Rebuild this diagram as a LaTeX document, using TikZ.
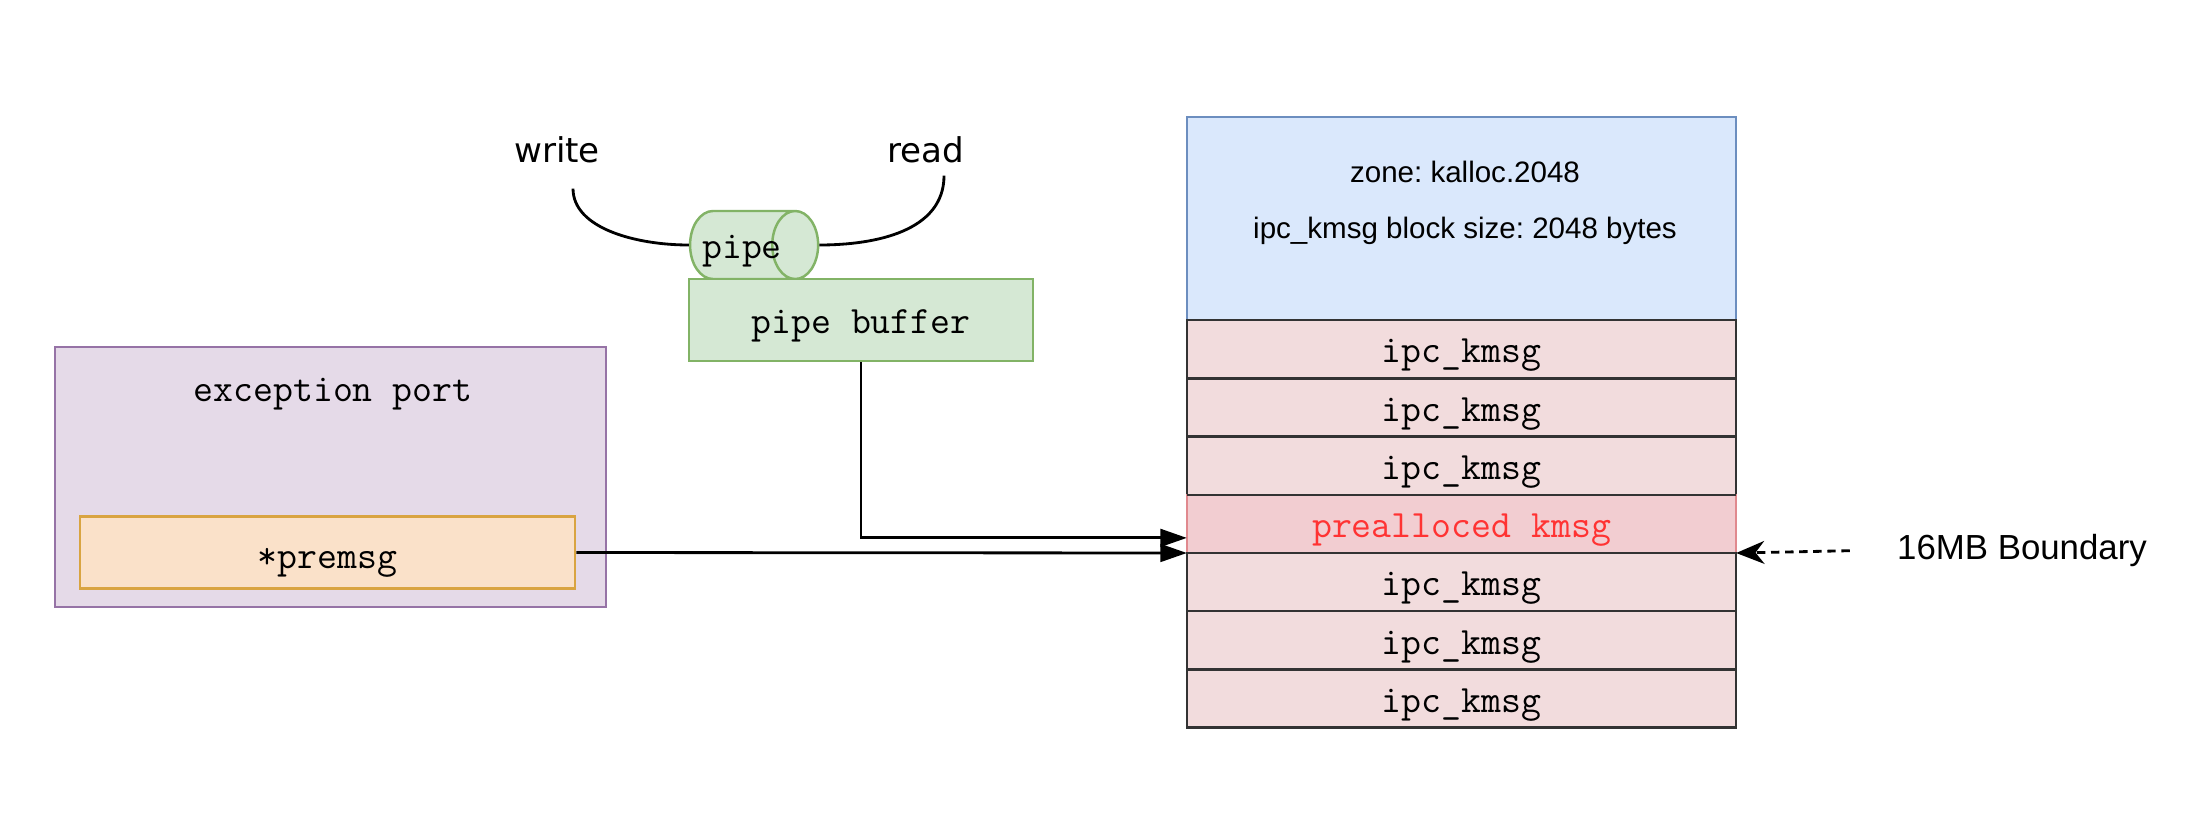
\documentclass[tikz,border=0pt]{standalone}
\usepackage{fontspec}
\usepackage{xcolor}
\usepackage{tikz}
\usetikzlibrary{shapes.geometric,arrows.meta,positioning}
\newfontfamily\arialfont{Liberation Sans}
\newfontfamily\handfont{DejaVu Sans}
\frenchspacing
\definecolor{zonefill}{HTML}{DAE8FC}
\definecolor{zoneline}{HTML}{6C8EBF}
\definecolor{kmsgfill}{HTML}{F2DCDD}
\definecolor{kmsgline}{HTML}{333333}
\definecolor{preafill}{HTML}{F2CDD1}
\definecolor{prealine}{HTML}{E0898E}
\definecolor{preatext}{HTML}{FF3333}
\definecolor{pipefill}{HTML}{D5E8D4}
\definecolor{pipeline}{HTML}{82B366}
\definecolor{portfill}{HTML}{E5DAE8}
\definecolor{portline}{HTML}{9673A6}
\definecolor{msgfill}{HTML}{FAE1C9}
\definecolor{msgline}{HTML}{D9A441}

\begin{document}
\begin{tikzpicture}[
    x=0.01cm, y=-0.01cm,
    mono/.style={font=\ttfamily\fontsize{11}{13}\selectfont, text height=1.0em, text depth=0.22em},
    kmsg/.style={rectangle, draw=kmsgline, line width=0.7pt, fill=kmsgfill, outer sep=0pt,
        minimum width=5.49cm, minimum height=0.582cm, inner sep=0pt, mono},
    prea/.style={kmsg, draw=prealine, fill=preafill, text=preatext},
    zonebox/.style={rectangle, draw=zoneline, line width=0.7pt, fill=zonefill, outer sep=0pt,
        minimum width=5.49cm, minimum height=2.03cm},
    pipebox/.style={rectangle, draw=pipeline, line width=0.7pt, fill=pipefill,
        minimum width=3.44cm, minimum height=0.82cm, mono},
    portbox/.style={rectangle, draw=portline, line width=0.7pt, fill=portfill,
        minimum width=5.51cm, minimum height=2.60cm},
    msgbox/.style={rectangle, draw=msgline, line width=0.7pt, fill=msgfill,
        minimum width=4.95cm, minimum height=0.57cm, mono, text height=1.15em},
    arr/.style={-{Triangle[length=7.5pt,width=5pt]}, line width=0.8pt},
    bndarr/.style={-{Stealth[length=8pt,width=6.5pt,inset=2.5pt]}, line width=0.8pt,
        dash pattern=on 2.4pt off 1.6pt},
    hand/.style={font=\handfont\fontsize{9.7}{12}\selectfont}
]
\useasboundingbox (0,0) rectangle (2210,830);

% kalloc.2048 zone
\node[zonebox] (zone) at (1461.5,218.5) {};
\node[font=\arialfont\fontsize{8.4}{10}\selectfont, align=center] (zoneinfo) at (1465,203)
    {zone: kalloc.2048\\[0.21cm]ipc\_kmsg block size: 2048 bytes};
\node[kmsg, below=0pt of zone] (r1) {ipc\_kmsg};
\node[kmsg, below=0pt of r1] (r2) {ipc\_kmsg};
\node[kmsg, below=0pt of r2] (r3) {ipc\_kmsg};
\node[prea, below=0pt of r3] (r4) {prealloced kmsg};
\node[kmsg, below=0pt of r4] (r5) {ipc\_kmsg};
\node[kmsg, below=0pt of r5] (r6) {ipc\_kmsg};
\node[kmsg, below=0pt of r6] (r7) {ipc\_kmsg};
\draw[draw=kmsgline, line width=0.7pt] (r3.south west) -- (r3.south east);

% pipe
\node[hand] (write) at (557,150) {write};
\node[hand] (read) at (926,150) {read};
\node[cylinder, shape border rotate=0, aspect=1.07, draw=pipeline, fill=pipefill,
    line width=0.7pt, minimum width=0.68cm, minimum height=1.28cm, inner ysep=0pt,
    inner xsep=-0.115cm, mono] (pipe) at (742,245) {pipe};
\node[pipebox] (buf) at (861,320) {pipe buffer};

% exception port
\node[portbox] (port) at (330.5,477) {};
\node[mono] (porttitle) at (333,388) {exception port};
\node[msgbox] (msg) at (327.5,552.5) {*premsg};

\node[font=\arialfont\fontsize{9.9}{12}\selectfont] (bnd) at (2022,550) {16MB Boundary};

\draw[line width=0.8pt, shorten <=0.13cm] ([xshift=0.16cm]write.south) to[out=-90, in=180] (pipe.west);
\draw[line width=0.8pt] ([xshift=0.18cm]read.south) to[out=-90, in=0] (pipe.east);
\draw[arr] (buf.south) |- ([yshift=-0.14cm]r4.west);
\draw[arr] (msg.east) -- (r4.south west);
\draw[bndarr, shorten <=0.35cm] (bnd.west) -- (r4.south east);
\end{tikzpicture}
\end{document}
